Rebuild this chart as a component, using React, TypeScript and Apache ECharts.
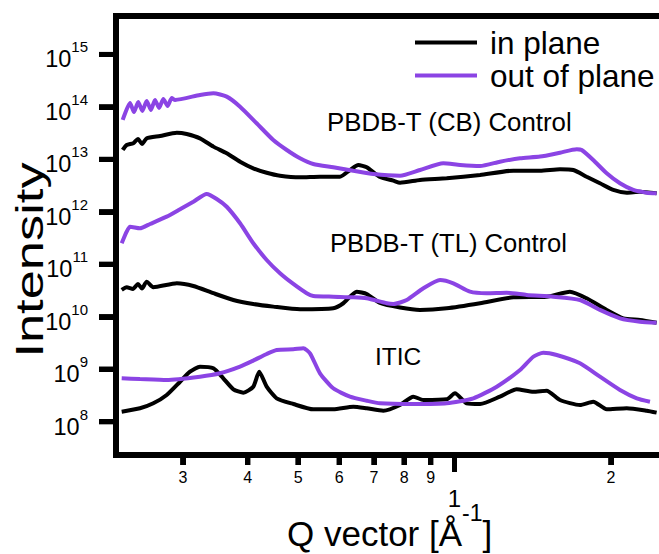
import React, { useEffect, useRef } from 'react';
import * as echarts from 'echarts';

const FONT = '"Liberation Sans", Arial, Helvetica, sans-serif';
const BLACK = '#000000';
const PURPLE = '#8b44e4';

// Axis extents (Q in 1/Å, intensity exponent)
const X_MIN_Q = 0.2231;
const X_MAX_Q = 2.475;
const Y_MIN_EXP = 7.365;
const Y_MAX_EXP = 15.733;

// Tick labels
const X_TICK_Q = [0.3, 0.4, 0.5, 0.6, 0.7, 0.8, 0.9, 1, 2];
const X_TICK_LABELS = ['3', '4', '5', '6', '7', '8', '9', '1', '2'];
const X_MAJOR_Q = [1];
const Y_TICK_EXP = [8, 9, 10, 11, 12, 13, 14, 15];

// PBDB-T (CB) Control
const cbOutQ = [0.2298, 0.2374, 0.2416, 0.2462, 0.2508, 0.2556, 0.2605, 0.2652, 0.27, 0.2752, 0.2804, 0.2857, 0.2899, 0.3237, 0.3435, 0.3644, 0.3866, 0.4161, 0.4479, 0.4755, 0.5043, 0.5348, 0.5843, 0.6386, 0.6978, 0.7855, 0.8582, 0.9515, 1.025, 1.12, 1.223, 1.337, 1.461, 1.596, 1.719, 1.757, 1.849, 1.963, 2.082, 2.209, 2.344, 2.449];
const cbOutI = [5.64e13, 1.19e14, 8.0e13, 1.24e14, 8.4e13, 1.3e14, 8.75e13, 1.36e14, 9.55e13, 1.42e14, 1.04e14, 1.48e14, 1.36e14, 1.69e14, 1.82e14, 1.57e14, 1.01e14, 4.88e13, 2.34e13, 1.51e13, 1.05e13, 8.17e12, 7.07e12, 6.09e12, 5.27e12, 4.89e12, 6.28e12, 8.43e12, 7.82e12, 7.48e12, 9.04e12, 1.05e13, 1.13e13, 1.34e13, 1.56e13, 1.51e13, 9.75e12, 5.43e12, 3.5e12, 2.61e12, 2.32e12, 2.26e12];
const cbInQ = [0.2298, 0.2339, 0.2409, 0.2459, 0.2503, 0.2556, 0.2712, 0.2921, 0.3052, 0.3237, 0.3435, 0.3644, 0.3866, 0.4099, 0.435, 0.4615, 0.5043, 0.5509, 0.602, 0.6293, 0.653, 0.6776, 0.7189, 0.7626, 0.7855, 0.8582, 0.966, 1.12, 1.298, 1.461, 1.596, 1.693, 1.796, 1.905, 2.021, 2.145, 2.275, 2.449];
const cbInI = [1.51e13, 1.88e13, 2.03e13, 2.45e13, 1.97e13, 2.52e13, 2.79e13, 3.23e13, 3.05e13, 2.52e13, 1.75e13, 1.31e13, 9.04e12, 6.76e12, 5.57e12, 4.89e12, 4.56e12, 4.68e12, 4.68e12, 6.28e12, 7.82e12, 7.07e12, 4.62e12, 3.93e12, 3.6e12, 4.05e12, 4.37e12, 5.05e12, 6.09e12, 6.09e12, 6.47e12, 6.28e12, 4.68e12, 3.5e12, 2.61e12, 2.32e12, 2.42e12, 2.26e12];

// PBDB-T (TL) Control
const tlOutQ = [0.2288, 0.2339, 0.2374, 0.2481, 0.2594, 0.2793, 0.2963, 0.3143, 0.3335, 0.3486, 0.3644, 0.3866, 0.4099, 0.435, 0.4615, 0.4896, 0.5194, 0.5348, 0.5843, 0.6386, 0.6776, 0.7405, 0.7626, 0.8091, 0.871, 0.9378, 0.9947, 1.071, 1.153, 1.26, 1.377, 1.549, 1.744, 1.905, 2.082, 2.275, 2.449];
const tlOutI = [2.52e11, 4.19e11, 5.21e11, 4.86e11, 5.87e11, 8.09e11, 1.12e12, 1.56e12, 2.19e12, 1.76e12, 1.25e12, 6.05e11, 2.52e11, 1.21e11, 6.75e10, 4.22e10, 2.81e10, 2.49e10, 2.41e10, 2.35e10, 2.25e10, 1.81e10, 1.75e10, 2.09e10, 3.49e10, 5.02e10, 4.35e10, 3.01e10, 2.81e10, 2.88e10, 2.6e10, 2.41e10, 2.09e10, 1.35e10, 9.35e9, 8.05e9, 7.71e9];
const tlInQ = [0.2288, 0.2339, 0.2405, 0.2459, 0.2503, 0.2556, 0.2632, 0.2921, 0.3143, 0.3435, 0.3753, 0.4099, 0.4479, 0.5043, 0.5843, 0.6109, 0.6483, 0.6776, 0.7189, 0.7855, 0.8582, 0.966, 1.12, 1.298, 1.504, 1.668, 1.796, 1.963, 2.113, 2.275, 2.449];
const tlInI = [3.24e10, 3.65e10, 3.39e10, 4.22e10, 3.46e10, 4.67e10, 3.65e10, 4.35e10, 3.86e10, 2.81e10, 2.09e10, 1.75e10, 1.56e10, 1.39e10, 1.45e10, 1.81e10, 3.01e10, 2.72e10, 1.83e10, 1.5e10, 1.35e10, 1.45e10, 1.81e10, 2.35e10, 2.41e10, 3.01e10, 2.25e10, 1.35e10, 9.35e9, 8.68e9, 7.71e9];

// ITIC
const iticOutQ = [0.2288, 0.2481, 0.2793, 0.3237, 0.3538, 0.3866, 0.4099, 0.435, 0.4547, 0.4896, 0.5117, 0.5271, 0.5509, 0.5843, 0.6293, 0.6776, 0.7189, 0.8331, 0.966, 1.087, 1.206, 1.337, 1.418, 1.482, 1.573, 1.744, 1.905, 2.082, 2.243, 2.378];
const iticOutI = [6.72e8, 6.51e8, 6.24e8, 7.21e8, 8.37e8, 1.12e9, 1.46e9, 1.95e9, 2.33e9, 2.4e9, 2.51e9, 2.01e9, 8.37e8, 4.33e8, 3.0e8, 2.51e8, 2.24e8, 2.17e8, 2.24e8, 2.79e8, 4.65e8, 9.67e8, 1.73e9, 2.07e9, 1.87e9, 1.3e9, 7.21e8, 4.02e8, 2.79e8, 2.4e8];
const iticInQ = [0.2288, 0.2481, 0.2632, 0.2793, 0.2963, 0.3097, 0.3237, 0.3435, 0.3589, 0.3753, 0.3923, 0.4099, 0.4209, 0.435, 0.4547, 0.4896, 0.5348, 0.5843, 0.6386, 0.6776, 0.7295, 0.7855, 0.8331, 0.871, 0.966, 1.002, 1.055, 1.12, 1.223, 1.317, 1.418, 1.504, 1.596, 1.744, 1.849, 1.963, 2.145, 2.344, 2.449];
const iticInI = [1.55e8, 1.8e8, 2.24e8, 3.23e8, 5.78e8, 8.97e8, 1.12e9, 1.04e9, 6.72e8, 4.15e8, 3.57e8, 4.65e8, 8.97e8, 4.65e8, 2.79e8, 2.17e8, 1.72e8, 1.72e8, 1.93e8, 1.8e8, 1.62e8, 2.08e8, 3.0e8, 2.59e8, 2.67e8, 3.48e8, 2.24e8, 2.17e8, 3.0e8, 4.15e8, 3.73e8, 3.9e8, 2.59e8, 2.08e8, 2.4e8, 1.72e8, 1.8e8, 1.62e8, 1.49e8];

const SERIES_NAMES = ['in plane', 'out of plane'];
const ANNOTATIONS = ['PBDB-T (CB) Control', 'PBDB-T (TL) Control', 'ITIC'];

const toPairs = (q: number[], v: number[]) => q.map((x, i) => [Math.log10(x), Math.log10(v[i])]);
const lg = (v: number) => Math.log10(v);

export default function App() {
  const ref = useRef<HTMLDivElement>(null);
  useEffect(() => {
    if (!ref.current) return;
    const chart = echarts.init(ref.current, null, { renderer: 'svg' });
    const xMin = lg(X_MIN_Q);
    const xMax = lg(X_MAX_Q);
    const tickVals = X_TICK_Q.map(lg);
    const majorVals = X_MAJOR_Q.map(lg);
    const isMajor = (v: number) => majorVals.some((m) => Math.abs(m - v) < 1e-6);
    const minorOnly = tickVals.filter((v) => !isMajor(v));
    const lineSeries = (name: string, color: string, q: number[], v: number[]) => ({
      type: 'line',
      name,
      data: toPairs(q, v),
      showSymbol: false,
      symbol: 'none',
      smooth: 0.2,
      lineStyle: { width: 4, color },
      itemStyle: { color },
    });
    // Tick marks as rectangular symbols placed at the axis values through the axes' scales.
    const tickMarks = (name: string, data: number[][], size: number[], offset: number[]) => ({
      type: 'scatter',
      name,
      data,
      symbol: 'rect',
      symbolSize: size,
      symbolOffset: offset,
      clip: false,
      silent: true,
      z: 20,
      itemStyle: { color: BLACK, opacity: 1 },
      emphasis: { disabled: true },
      tooltip: { show: false },
    });
    const txt = { fontFamily: FONT, fill: '#000' };
    chart.setOption({
      animation: false,
      grid: { left: 116, right: 0, top: 16, bottom: 99 },
      xAxis: {
        type: 'value', min: xMin, max: xMax, position: 'bottom',
        axisLine: { show: true, onZero: false, lineStyle: { color: BLACK, width: 6 } },
        splitLine: { show: false },
        axisTick: { show: true, customValues: tickVals, length: 10, lineStyle: { color: BLACK, width: 5 } },
        axisLabel: {
          customValues: tickVals, margin: 14, color: '#000', fontFamily: FONT,
          formatter: (v: number) => {
            let best = 0;
            tickVals.forEach((m, i) => { if (Math.abs(m - v) < Math.abs(tickVals[best] - v)) best = i; });
            return isMajor(v) ? `{big|${X_TICK_LABELS[best]}}` : `{sm|${X_TICK_LABELS[best]}}`;
          },
          rich: {
            sm: { fontSize: 16, fontFamily: FONT, color: '#000' },
            big: { fontSize: 24, fontFamily: FONT, color: '#000', padding: [17, 0, 0, 0] },
          },
        },
      },
      yAxis: {
        type: 'value', min: Y_MIN_EXP, max: Y_MAX_EXP,
        axisLine: { show: true, onZero: false, lineStyle: { color: BLACK, width: 6 } },
        splitLine: { show: false },
        axisTick: { show: true, customValues: Y_TICK_EXP, length: 17, lineStyle: { color: BLACK, width: 5 } },
        axisLabel: {
          customValues: Y_TICK_EXP, margin: 28, color: '#000', fontFamily: FONT,
          formatter: (v: number) => `{b|10}{s|${Math.round(v)}}`,
          rich: {
            b: { fontSize: 23.5, fontFamily: FONT, color: '#000', padding: [10, 0, 0, 0] },
            s: { fontSize: 15, fontFamily: FONT, color: '#000', padding: [0, 0, 15, 0] },
          },
        },
      },
      legend: {
        data: SERIES_NAMES,
        orient: 'vertical', left: 415, top: 26, padding: 0, itemGap: 0,
        itemWidth: 62, itemHeight: 4, icon: 'rect',
        textStyle: { fontSize: 31.5, lineHeight: 33, fontFamily: FONT, color: '#000', padding: [0, 0, 0, 8] },
      },
      series: [
        lineSeries(SERIES_NAMES[0], BLACK, cbInQ, cbInI),
        lineSeries(SERIES_NAMES[0], BLACK, tlInQ, tlInI),
        lineSeries(SERIES_NAMES[0], BLACK, iticInQ, iticInI),
        lineSeries(SERIES_NAMES[1], PURPLE, cbOutQ, cbOutI),
        lineSeries(SERIES_NAMES[1], PURPLE, tlOutQ, tlOutI),
        lineSeries(SERIES_NAMES[1], PURPLE, iticOutQ, iticOutI),
        tickMarks('x ticks', minorOnly.map((v) => [v, Y_MIN_EXP]), [5, 10], [0, 5]),
        tickMarks('x decade tick', majorVals.map((v) => [v, Y_MIN_EXP]), [5, 17], [0, 8.5]),
        tickMarks('y ticks', Y_TICK_EXP.map((e) => [xMin, e]), [17, 5], [-8.5, 0]),
      ],
    });

    // Frame drawn through the chart's own axis scales.
    const extra: any[] = [];
    const px = (v: number[]) => {
      const p = chart.convertToPixel({ gridIndex: 0 }, v) as any;
      return p && isFinite(p[0]) && isFinite(p[1]) ? p : null;
    };
    const box = (x: number, y: number, w: number, h: number) => {
      extra.push({ type: 'rect', z: 100, shape: { x, y, width: w, height: h }, style: { fill: '#000' } });
    };
    tickVals.forEach((v) => {
      const p = px([v, Y_MIN_EXP]);
      if (p) box(p[0] - 2.5, p[1], 5, isMajor(v) ? 17 : 10);
    });
    Y_TICK_EXP.forEach((e) => {
      const p = px([xMin, e]);
      if (p) box(p[0] - 17, p[1] - 2.5, 17, 5);
    });
    const tl = px([xMin, Y_MAX_EXP]);
    const br = px([xMax, Y_MIN_EXP]);
    if (tl && br) {
      box(tl[0] - 3, tl[1] - 3, br[0] - tl[0] + 6, 6);
      box(tl[0] - 3, tl[1] - 3, 6, br[1] - tl[1] + 6);
      box(tl[0] - 3, br[1] - 3, br[0] - tl[0] + 6, 6);
    }

    chart.setOption({
      graphic: [
        { type: 'text', x: 327, y: 122, style: { ...txt, text: ANNOTATIONS[0], fontSize: 25.8, align: 'left', verticalAlign: 'middle' } },
        { type: 'text', x: 330, y: 242.5, style: { ...txt, text: ANNOTATIONS[1], fontSize: 25.6, align: 'left', verticalAlign: 'middle' } },
        { type: 'text', x: 375, y: 356, style: { ...txt, text: ANNOTATIONS[2], fontSize: 24.5, align: 'left', verticalAlign: 'middle' } },
        { type: 'text', x: 30, y: 260, rotation: Math.PI / 2, scaleX: 1.38, style: { ...txt, text: 'Intensity', fontSize: 38, align: 'center', verticalAlign: 'middle' } },
        {
          type: 'text', x: 287, y: 533,
          style: {
            ...txt, text: '{a|Q vector [Å}{s|-1}{a|]}', align: 'left', verticalAlign: 'middle',
            rich: {
              a: { fontSize: 35, fontFamily: FONT, fill: '#000' },
              s: { fontSize: 23, fontFamily: FONT, fill: '#000', padding: [0, 0, 40, 0] },
            },
          },
        },
        ...extra,
      ],
    });
    return () => chart.dispose();
  }, []);
  return <div ref={ref} style={{ position: 'fixed', left: 0, top: 0, width: 659, height: 554, background: '#fff' }} />;
}
